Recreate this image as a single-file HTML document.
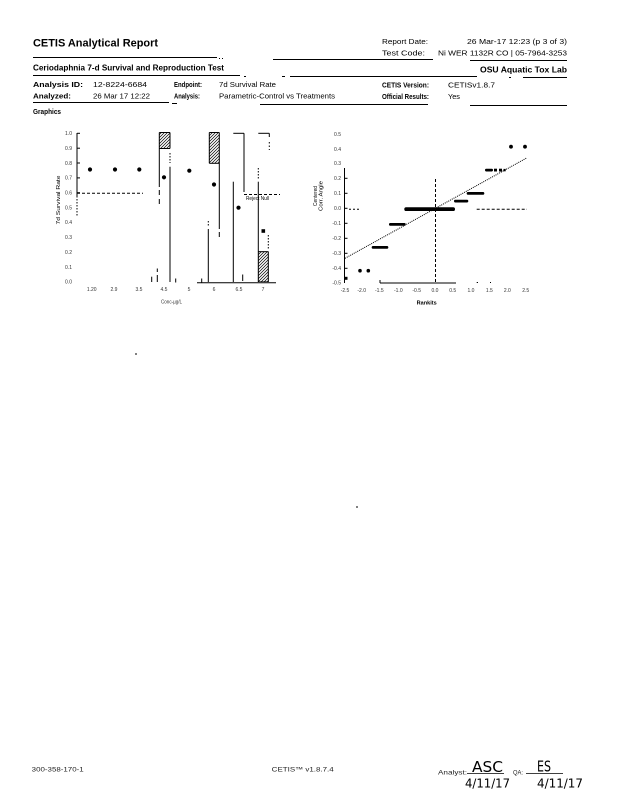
<!DOCTYPE html>
<html><head><meta charset="utf-8">
<style>html,body{margin:0;padding:0;background:#fff}svg{display:block}</style>
</head>
<body>
<svg xmlns="http://www.w3.org/2000/svg" width="618" height="800" viewBox="0 0 618 800" font-family="'Liberation Sans', sans-serif">
<defs>
<pattern id="h" patternUnits="userSpaceOnUse" width="3" height="3">
<path d="M-1,1 L1,-1 M0,3 L3,0 M2,4 L4,2" stroke="#000" stroke-width="0.7"/>
</pattern>
</defs>
<rect width="618" height="800" fill="#fff"/>

<!-- ===== HEADER ===== -->
<g fill="#000">
<text x="33" y="46.5" font-size="11" font-weight="bold" textLength="125" lengthAdjust="spacingAndGlyphs">CETIS Analytical Report</text>
<text x="382" y="44" font-size="7.5" textLength="46" lengthAdjust="spacingAndGlyphs">Report Date:</text>
<text x="467" y="44" font-size="7.5" textLength="100" lengthAdjust="spacingAndGlyphs">26 Mar-17 12:23 (p 3 of 3)</text>
<text x="382" y="55.5" font-size="7.5" textLength="43" lengthAdjust="spacingAndGlyphs">Test Code:</text>
<text x="438" y="55.5" font-size="7.5" textLength="129" lengthAdjust="spacingAndGlyphs">Ni WER 1132R CO | 05-7964-3253</text>

<text x="33" y="70.5" font-size="8" font-weight="bold" textLength="191" lengthAdjust="spacingAndGlyphs">Ceriodaphnia 7-d Survival and Reproduction Test</text>
<text x="480" y="72.3" font-size="8" font-weight="bold" textLength="87" lengthAdjust="spacingAndGlyphs">OSU Aquatic Tox Lab</text>

<text x="33" y="87" font-size="7.5" font-weight="bold" textLength="50" lengthAdjust="spacingAndGlyphs">Analysis ID:</text>
<text x="93" y="87" font-size="7.5" textLength="54" lengthAdjust="spacingAndGlyphs">12-8224-6684</text>
<text x="174" y="87" font-size="7.5" font-weight="bold" textLength="28" lengthAdjust="spacingAndGlyphs">Endpoint:</text>
<text x="219" y="87" font-size="7.5" textLength="57" lengthAdjust="spacingAndGlyphs">7d Survival Rate</text>
<text x="382" y="87.5" font-size="7.5" font-weight="bold" textLength="47" lengthAdjust="spacingAndGlyphs">CETIS Version:</text>
<text x="448" y="87.5" font-size="7.5" textLength="47" lengthAdjust="spacingAndGlyphs">CETISv1.8.7</text>

<text x="33" y="98.3" font-size="7.5" font-weight="bold" textLength="38" lengthAdjust="spacingAndGlyphs">Analyzed:</text>
<text x="93" y="98.3" font-size="7.5" textLength="57" lengthAdjust="spacingAndGlyphs">26 Mar 17 12:22</text>
<text x="174" y="98.3" font-size="7.5" font-weight="bold" textLength="26" lengthAdjust="spacingAndGlyphs">Analysis:</text>
<text x="219" y="98.3" font-size="7.5" textLength="116" lengthAdjust="spacingAndGlyphs">Parametric-Control vs Treatments</text>
<text x="382" y="99" font-size="7.5" font-weight="bold" textLength="47" lengthAdjust="spacingAndGlyphs">Official Results:</text>
<text x="448" y="99" font-size="7.5" textLength="12" lengthAdjust="spacingAndGlyphs">Yes</text>

<text x="33" y="113.8" font-size="7.5" font-weight="bold" textLength="28" lengthAdjust="spacingAndGlyphs">Graphics</text>
</g>

<g stroke="#000" stroke-width="1" fill="none">
<line x1="33" y1="57.5" x2="217" y2="57.5"/>
<line x1="219" y1="58.5" x2="220" y2="58.5"/>
<line x1="222" y1="58.5" x2="223" y2="58.5"/>
<line x1="273" y1="59.5" x2="433" y2="59.5"/>
<line x1="470" y1="60.5" x2="567" y2="60.5"/>
<line x1="33" y1="75.5" x2="240" y2="75.5"/>
<line x1="244" y1="76.5" x2="246" y2="76.5"/>
<line x1="282" y1="76.5" x2="285" y2="76.5"/>
<line x1="290" y1="76.5" x2="477" y2="76.5"/>
<line x1="509" y1="77.5" x2="511" y2="77.5"/>
<line x1="523" y1="77.5" x2="567" y2="77.5"/>
<line x1="33" y1="102.5" x2="169" y2="102.5"/>
<line x1="172" y1="103.5" x2="177" y2="103.5"/>
<line x1="260" y1="104.5" x2="428" y2="104.5"/>
<line x1="470" y1="105.5" x2="567" y2="105.5"/>
</g>

<!-- ===== LEFT CHART ===== -->
<g stroke="#000" stroke-width="1" fill="none">
<!-- y axis -->
<line x1="77" y1="133" x2="77" y2="196"/>
<line x1="77" y1="196" x2="77" y2="216" stroke-dasharray="1.5 1.5"/>
<line x1="77" y1="133.3" x2="80" y2="133.3"/>
<line x1="77" y1="148.2" x2="80" y2="148.2"/>
<line x1="77" y1="163" x2="80" y2="163"/>
<line x1="77" y1="177.9" x2="80" y2="177.9"/>
<line x1="77" y1="192.7" x2="80" y2="192.7"/>
<!-- dashed reference -->
<line x1="77" y1="193.2" x2="143" y2="193.2" stroke-dasharray="3 2"/>
<line x1="244" y1="194.5" x2="280" y2="194.5" stroke-dasharray="3 2"/>
<!-- x axis -->
<line x1="197" y1="282.7" x2="276" y2="282.7"/>
<!-- group 4.5 -->
<line x1="159.3" y1="132.5" x2="159.3" y2="187"/>
<line x1="159.3" y1="190" x2="159.3" y2="195"/>
<line x1="159.3" y1="199" x2="159.3" y2="204"/>
<line x1="170" y1="132.5" x2="170" y2="148.5"/>
<line x1="159.3" y1="148.5" x2="170" y2="148.5"/>
<line x1="159.3" y1="132.5" x2="170" y2="132.5"/>
<line x1="170" y1="153" x2="170" y2="163" stroke-dasharray="1.5 1.5"/>
<line x1="170" y1="166.7" x2="170" y2="282"/>
<!-- group 6 -->
<line x1="209.3" y1="132.5" x2="219.3" y2="132.5"/>
<line x1="209.3" y1="132.5" x2="209.3" y2="163.3"/>
<line x1="209.3" y1="163.3" x2="219.3" y2="163.3"/>
<line x1="219.3" y1="132.5" x2="219.3" y2="229"/>
<line x1="219.3" y1="232" x2="219.3" y2="237"/>
<line x1="208.3" y1="221" x2="208.3" y2="227" stroke-dasharray="1.5 1.5"/>
<line x1="208.3" y1="229" x2="208.3" y2="282"/>
<!-- group 6.5 -->
<line x1="233.3" y1="133.3" x2="244" y2="133.3"/>
<line x1="244" y1="133.3" x2="244" y2="192"/>
<line x1="233.3" y1="181.7" x2="233.3" y2="282"/>
<!-- group 7 -->
<line x1="258.3" y1="133.3" x2="269.3" y2="133.3"/>
<line x1="269.3" y1="133.3" x2="269.3" y2="137"/>
<line x1="269.3" y1="142" x2="269.3" y2="150" stroke-dasharray="1.5 2"/>
<line x1="258.3" y1="168" x2="258.3" y2="180" stroke-dasharray="1.5 1.5"/>
<line x1="258.3" y1="181.7" x2="258.3" y2="282"/>
<line x1="268.3" y1="235" x2="268.3" y2="250" stroke-dasharray="1.5 1.5"/>
<line x1="268.3" y1="251.7" x2="268.3" y2="282"/>
<line x1="258.3" y1="251.7" x2="268.3" y2="251.7"/>
<!-- small marks -->
<line x1="151.7" y1="276.7" x2="151.7" y2="282"/>
<line x1="157.3" y1="268.5" x2="157.3" y2="272"/>
<line x1="157.3" y1="275" x2="157.3" y2="282"/>
<line x1="175.7" y1="278.5" x2="175.7" y2="282.5"/>
<line x1="201.7" y1="278.5" x2="201.7" y2="282.5"/>
<line x1="242.7" y1="274.5" x2="242.7" y2="281"/>
</g>
<!-- hatched boxes -->
<rect x="159.3" y="132.5" width="10.7" height="16" fill="url(#h)"/>
<rect x="209.3" y="132.5" width="10" height="30.8" fill="url(#h)"/>
<rect x="258.3" y="251.7" width="10" height="30" fill="url(#h)" stroke="#000" stroke-width="0.6"/>
<!-- points -->
<g fill="#000">
<circle cx="90" cy="169.5" r="2.1"/>
<circle cx="115" cy="169.5" r="2.1"/>
<circle cx="139.3" cy="169.5" r="2.1"/>
<circle cx="164" cy="177.3" r="2.1"/>
<circle cx="189.3" cy="170.7" r="2.1"/>
<circle cx="214" cy="184.5" r="2.1"/>
<circle cx="238.5" cy="207.7" r="2.1"/>
<rect x="261.5" y="229.2" width="3.6" height="3.6"/>
</g>
<!-- labels -->
<g fill="#333" font-size="5">
<text x="72" y="135.1" text-anchor="end">1.0</text>
<text x="72" y="150" text-anchor="end">0.9</text>
<text x="72" y="164.8" text-anchor="end">0.8</text>
<text x="72" y="179.7" text-anchor="end">0.7</text>
<text x="72" y="194.5" text-anchor="end">0.6</text>
<text x="72" y="209.4" text-anchor="end">0.5</text>
<text x="72" y="224.2" text-anchor="end">0.4</text>
<text x="72" y="239.1" text-anchor="end">0.3</text>
<text x="72" y="253.9" text-anchor="end">0.2</text>
<text x="72" y="268.8" text-anchor="end">0.1</text>
<text x="72" y="283.5" text-anchor="end">0.0</text>
<text x="91.7" y="291" text-anchor="middle">1.20</text>
<text x="114" y="291" text-anchor="middle">2.9</text>
<text x="139" y="291" text-anchor="middle">3.5</text>
<text x="164" y="291" text-anchor="middle">4.5</text>
<text x="189" y="291" text-anchor="middle">5</text>
<text x="214" y="291" text-anchor="middle">6</text>
<text x="239" y="291" text-anchor="middle">6.5</text>
<text x="263" y="291" text-anchor="middle">7</text>
<text x="161" y="303.5" textLength="21" lengthAdjust="spacingAndGlyphs">Conc-µg/L</text>
<text x="246" y="199.8" textLength="23" lengthAdjust="spacingAndGlyphs" fill="#000">Reject Null</text>
<text transform="translate(60,200) rotate(-90)" text-anchor="middle" textLength="49" lengthAdjust="spacingAndGlyphs" fill="#000">7d Survival Rate</text>
</g>

<!-- ===== RIGHT CHART ===== -->
<g stroke="#000" stroke-width="1" fill="none">
<line x1="344.5" y1="168" x2="344.5" y2="283"/>
<line x1="344.5" y1="178.3" x2="347.5" y2="178.3"/>
<line x1="344.5" y1="193.3" x2="347.5" y2="193.3"/>
<line x1="344.5" y1="208.3" x2="347.5" y2="208.3"/>
<line x1="344.5" y1="223.3" x2="347.5" y2="223.3"/>
<line x1="344.5" y1="238.3" x2="347.5" y2="238.3"/>
<line x1="344.5" y1="253.3" x2="347.5" y2="253.3"/>
<line x1="344.5" y1="268.3" x2="347.5" y2="268.3"/>
<!-- x axis partial -->
<line x1="380" y1="280" x2="380" y2="283"/>
<line x1="380" y1="283" x2="456" y2="283"/>
<line x1="476.7" y1="282.5" x2="478" y2="282.5"/>
<line x1="490" y1="282.5" x2="491" y2="282.5"/>
<!-- reference lines -->
<line x1="435.5" y1="179" x2="435.5" y2="283" stroke-dasharray="3 2"/>
<line x1="349" y1="209.3" x2="360" y2="209.3" stroke-dasharray="2 2"/>
<line x1="476.7" y1="209.3" x2="527" y2="209.3" stroke-dasharray="3 2"/>
<line x1="345" y1="258.3" x2="527" y2="157.8" stroke-dasharray="1 1"/>
</g>
<g fill="#000">
<rect x="344.5" y="276.8" width="3" height="3"/>
<circle cx="360" cy="270.7" r="1.8"/>
<circle cx="368.3" cy="270.7" r="1.8"/>
<rect x="371.7" y="246" width="16.6" height="2.8" rx="1.2"/>
<rect x="389" y="223" width="16.7" height="2.8" rx="1.2"/>
<rect x="404.3" y="207.2" width="50.7" height="3.8" rx="1.8"/>
<rect x="454" y="199.7" width="14.3" height="2.8" rx="1.2"/>
<rect x="466.7" y="192" width="17.6" height="2.8" rx="1.2"/>
<rect x="485" y="168.7" width="8" height="2.8" rx="1.2"/>
<rect x="494" y="168.7" width="3" height="2.8"/>
<rect x="499" y="168.7" width="3" height="2.8"/>
<rect x="503.5" y="168.9" width="2.2" height="2.4"/>
<circle cx="511" cy="146.7" r="1.9"/>
<circle cx="525" cy="146.7" r="1.9"/>
</g>
<g fill="#333" font-size="5">
<text x="341" y="135.8" text-anchor="end">0.5</text>
<text x="341" y="150.8" text-anchor="end">0.4</text>
<text x="341" y="165.1" text-anchor="end">0.3</text>
<text x="341" y="180.1" text-anchor="end">0.2</text>
<text x="341" y="195.1" text-anchor="end">0.1</text>
<text x="341" y="210.1" text-anchor="end">0.0</text>
<text x="341" y="225.1" text-anchor="end">-0.1</text>
<text x="341" y="240.1" text-anchor="end">-0.2</text>
<text x="341" y="255.1" text-anchor="end">-0.3</text>
<text x="341" y="270.1" text-anchor="end">-0.4</text>
<text x="341" y="284.5" text-anchor="end">-0.5</text>
<text x="345" y="292" text-anchor="middle">-2.5</text>
<text x="361.7" y="292" text-anchor="middle">-2.0</text>
<text x="379.3" y="292" text-anchor="middle">-1.5</text>
<text x="398.3" y="292" text-anchor="middle">-1.0</text>
<text x="416.7" y="292" text-anchor="middle">-0.5</text>
<text x="435" y="292" text-anchor="middle">0.0</text>
<text x="452.7" y="292" text-anchor="middle">0.5</text>
<text x="471" y="292" text-anchor="middle">1.0</text>
<text x="489.3" y="292" text-anchor="middle">1.5</text>
<text x="507.3" y="292" text-anchor="middle">2.0</text>
<text x="525.7" y="292" text-anchor="middle">2.5</text>
<text x="426.7" y="304.5" text-anchor="middle" font-size="5.5" font-weight="bold" fill="#000" textLength="20" lengthAdjust="spacingAndGlyphs">Rankits</text>
<text transform="translate(317,196) rotate(-90)" text-anchor="middle" fill="#000" textLength="20" lengthAdjust="spacingAndGlyphs">Centered</text>
<text transform="translate(322.5,196) rotate(-90)" text-anchor="middle" fill="#000" textLength="30" lengthAdjust="spacingAndGlyphs">Corr. Angle</text>
</g>

<!-- stray marks -->
<g fill="#000">
<rect x="135" y="353.5" width="2" height="1"/>
<rect x="356" y="506.5" width="2" height="1"/>
</g>

<!-- ===== FOOTER ===== -->
<g fill="#222" font-size="6.5">
<text x="31.7" y="771.5" textLength="52" lengthAdjust="spacingAndGlyphs">300-358-170-1</text>
<text x="271.7" y="771.5" textLength="62" lengthAdjust="spacingAndGlyphs">CETIS™ v1.8.7.4</text>
<text x="438" y="774.5" textLength="29" lengthAdjust="spacingAndGlyphs">Analyst:</text>
<text x="513" y="774.5" textLength="10" lengthAdjust="spacingAndGlyphs">QA:</text>
</g>
<g stroke="#000" stroke-width="0.8">
<line x1="467" y1="773.5" x2="504" y2="773.5"/>
<line x1="526" y1="773.5" x2="563" y2="773.5"/>
</g>
<g fill="#000" font-family="'DejaVu Sans', sans-serif" font-weight="normal">
<text x="472" y="772" font-size="15" textLength="31" lengthAdjust="spacingAndGlyphs">ASC</text>
<text x="537" y="771.5" font-size="15" textLength="14" lengthAdjust="spacingAndGlyphs">ES</text>
<text x="465" y="787.5" font-size="12" textLength="45" lengthAdjust="spacingAndGlyphs">4/11/17</text>
<text x="537" y="787.5" font-size="12" textLength="46" lengthAdjust="spacingAndGlyphs">4/11/17</text>
</g>
</svg>
</body></html>
